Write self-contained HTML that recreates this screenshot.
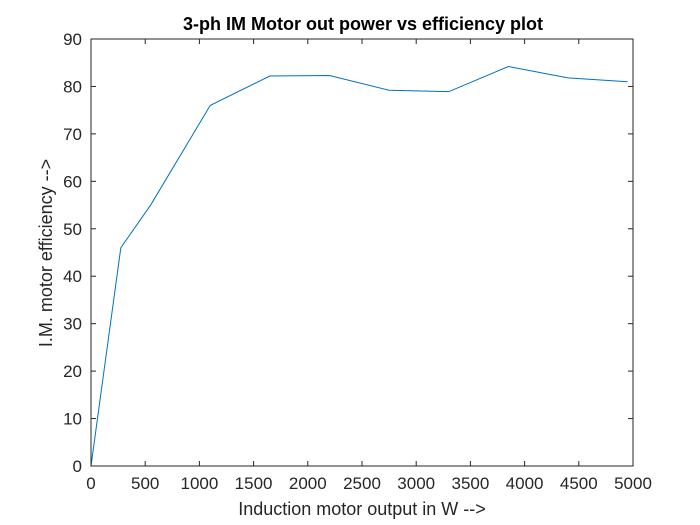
<!DOCTYPE html>
<html><head><meta charset="utf-8"><style>
body{margin:0;background:#fff;width:700px;height:525px;overflow:hidden}
svg{display:block;font-family:"Liberation Sans",sans-serif}
</style></head><body>
<svg id="chart" width="700" height="525">
<rect x="0" y="0" width="700" height="525" fill="#fff"/>
<text x="363" y="30" text-anchor="middle" font-size="18" font-weight="bold" fill="#000">3-ph IM Motor out power vs efficiency plot</text>
<text x="362" y="515" text-anchor="middle" font-size="18" fill="#262626">Induction motor output in W --&gt;</text>
<text transform="translate(52,253) rotate(-90)" text-anchor="middle" font-size="18" fill="#262626">I.M. motor efficiency --&gt;</text>
<g id="ticks"></g>
<polyline id="series" fill="none" stroke="#0072BD" stroke-width="1"/>
<rect x="91" y="39" width="542" height="427" fill="none" stroke="#262626" stroke-width="1"/>
</svg>
<script>
const outputPower = [0, 275, 550, 1100, 1650, 2200, 2750, 3300, 3850, 4400, 4950];
const efficiency = [0, 46, 55, 76, 82.2, 82.3, 79.2, 78.9, 84.2, 81.8, 81.0];
const xTicks = [0, 500, 1000, 1500, 2000, 2500, 3000, 3500, 4000, 4500, 5000];
const yTicks = [0, 10, 20, 30, 40, 50, 60, 70, 80, 90];
const L=91,R=633,T=39,B=466;
const sx=v=>L+(v-0)/5000*(R-L);
const sy=v=>B-(v-0)/90*(B-T);
const NS='http://www.w3.org/2000/svg';
const g=document.getElementById('ticks');
xTicks.forEach(t=>{
  const x=sx(t);
  for(const [y1,y2] of [[B,B-5],[T,T+5]]){
    const l=document.createElementNS(NS,'line');
    l.setAttribute('x1',x);l.setAttribute('x2',x);l.setAttribute('y1',y1);l.setAttribute('y2',y2);
    l.setAttribute('stroke','#262626');
    
    
    g.appendChild(l);
  }
  const tx=document.createElementNS(NS,'text');
  tx.setAttribute('x',x);tx.setAttribute('y',B+23);tx.setAttribute('text-anchor','middle');
  tx.setAttribute('font-size','17');tx.setAttribute('fill','#262626');
  tx.textContent=t;
  
  
  g.appendChild(tx);
});
yTicks.forEach(t=>{
  const y=sy(t);
  for(const [x1,x2] of [[L,L+5],[R,R-5]]){
    const l=document.createElementNS(NS,'line');
    l.setAttribute('x1',x1);l.setAttribute('x2',x2);l.setAttribute('y1',y);l.setAttribute('y2',y);
    l.setAttribute('stroke','#262626');
    
    
    g.appendChild(l);
  }
  const tx=document.createElementNS(NS,'text');
  tx.setAttribute('x',L-9);tx.setAttribute('y',y+6);tx.setAttribute('text-anchor','end');
  tx.setAttribute('font-size','17');tx.setAttribute('fill','#262626');
  tx.textContent=t;
  
  
  g.appendChild(tx);
});
document.getElementById('series').setAttribute('points',outputPower.map((p,i)=>sx(p)+','+sy(efficiency[i])).join(' '));
</script>
</body></html>
